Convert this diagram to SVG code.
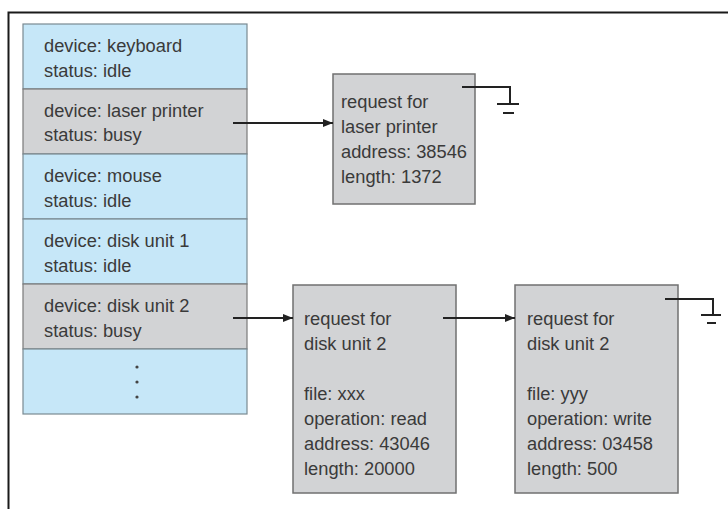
<svg xmlns="http://www.w3.org/2000/svg" width="728" height="509" viewBox="0 0 728 509">
<defs>
<style>
text{font-family:"Liberation Sans",Arial,sans-serif;font-size:18.3px;fill:#3a3a3a}
.blue{fill:#c6e7f8;stroke:#7a8a92;stroke-width:1.2}
.gray{fill:#d2d3d5;stroke:#7a7a7a;stroke-width:1.2}
.req{fill:#d2d3d5;stroke:#707070;stroke-width:1.5}
.wire{fill:none;stroke:#222;stroke-width:2}
.gnd{fill:none;stroke:#222;stroke-width:2}
</style>
<marker id="ah" markerWidth="10" markerHeight="8" refX="10" refY="4" orient="auto" markerUnits="userSpaceOnUse">
<path d="M0,0 L10,4 L0,8 Z" fill="#222"/>
</marker>
</defs>
<rect width="728" height="509" fill="#fff"/>
<path d="M8.5,509 V12.5 H728" fill="none" stroke="#1a1a1a" stroke-width="2"/>

<g id="device-table">
<g id="row-keyboard"><rect class="blue" x="23" y="24" width="224" height="65"/><text x="44" y="52">device: keyboard</text><text x="44" y="77">status: idle</text></g>
<g id="row-laser"><rect class="gray" x="23" y="89" width="224" height="65"/><text x="44" y="117">device: laser printer</text><text x="44" y="141">status: busy</text></g>
<g id="row-mouse"><rect class="blue" x="23" y="154" width="224" height="65"/><text x="44" y="182">device: mouse</text><text x="44" y="207">status: idle</text></g>
<g id="row-disk1"><rect class="blue" x="23" y="219" width="224" height="65"/><text x="44" y="247">device: disk unit 1</text><text x="44" y="272">status: idle</text></g>
<g id="row-disk2"><rect class="gray" x="23" y="284" width="224" height="65"/><text x="44" y="312">device: disk unit 2</text><text x="44" y="337">status: busy</text></g>
<g id="row-more"><rect class="blue" x="23" y="349" width="224" height="65"/><circle cx="137" cy="367" r="1.6" fill="#444"/><circle cx="137" cy="382" r="1.6" fill="#444"/><circle cx="137" cy="397" r="1.6" fill="#444"/></g>
</g>

<g id="req-laser"><rect class="req" x="333" y="74" width="142" height="130"/>
<text x="341" y="108">request for</text><text x="341" y="133">laser printer</text><text x="341" y="158">address: 38546</text><text x="341" y="183">length: 1372</text></g>

<g id="req-disk-1"><rect class="req" x="293" y="285" width="163" height="208"/>
<text x="304" y="325">request for</text><text x="304" y="350">disk unit 2</text><text x="304" y="400">file: xxx</text><text x="304" y="425">operation: read</text><text x="304" y="450">address: 43046</text><text x="304" y="475">length: 20000</text></g>

<g id="req-disk-2"><rect class="req" x="515" y="285" width="163" height="208"/>
<text x="527" y="325">request for</text><text x="527" y="350">disk unit 2</text><text x="527" y="400">file: yyy</text><text x="527" y="425">operation: write</text><text x="527" y="450">address: 03458</text><text x="527" y="475">length: 500</text></g>

<g id="connectors">
<line class="wire" x1="233" y1="123" x2="333" y2="123" marker-end="url(#ah)"/>
<line class="wire" x1="233" y1="318" x2="293" y2="318" marker-end="url(#ah)"/>
<line class="wire" x1="443" y1="318" x2="515" y2="318" marker-end="url(#ah)"/>
<path class="gnd" d="M462,87 H510 V104 M497,104 H519 M503,113 H514"/>
<path class="gnd" d="M665,299 H713 V315 M701,315 H721 M707,323 H716"/>
</g>
</svg>
